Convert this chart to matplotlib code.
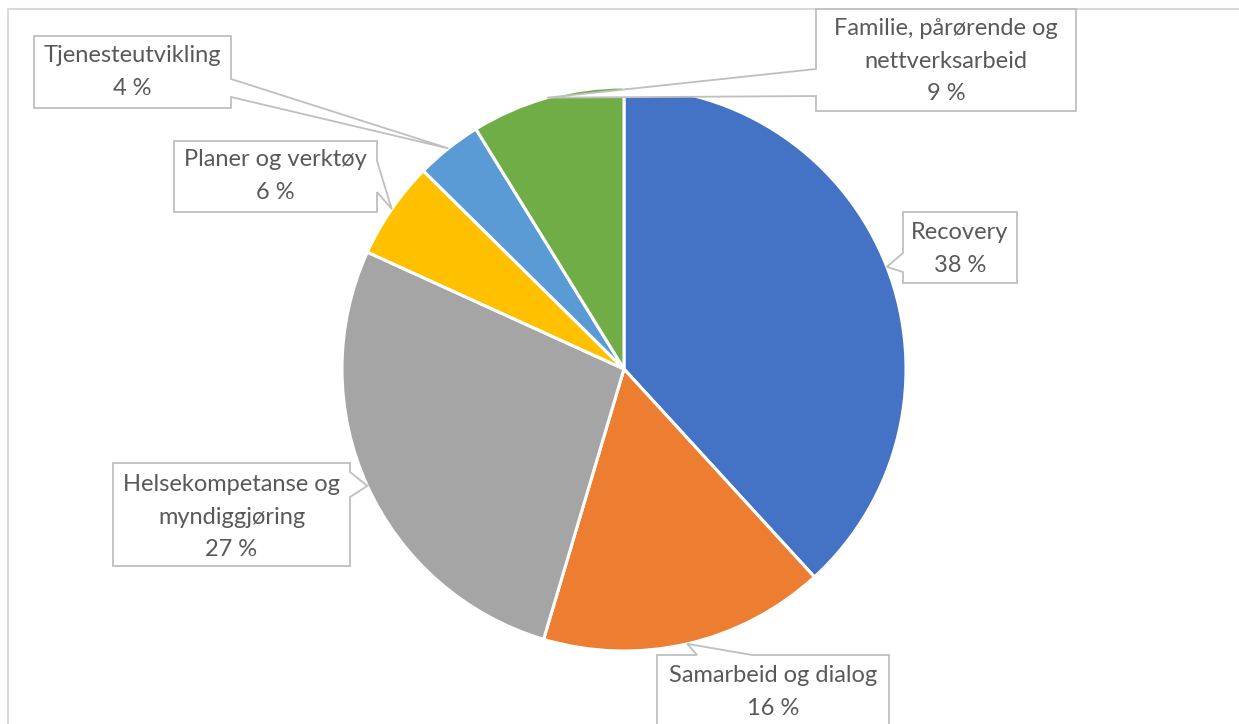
import matplotlib.pyplot as plt
from matplotlib.patches import Polygon
import numpy as np

# Data
labels = ["Recovery", "Samarbeid og dialog", "Helsekompetanse og\nmyndiggjøring",
          "Planer og verktøy", "Tjenesteutvikling", "Familie, pårørende og\nnettverksarbeid"]
shares = [38.2, 16.4, 27.2, 5.6, 3.8, 8.8]
colors = ["#4472C4", "#ED7D31", "#A5A5A5", "#FFC000", "#5B9BD5", "#70AD47"]

plt.rcParams["font.family"] = ["Lato", "DejaVu Sans"]

W, H = 1239, 724
cx, cy, R = 624, 369, 282  # pie centre/radius in pixels (y down)


def fy(y):
    # pixel y (down) -> axes y (up)
    return H - y


fig = plt.figure(figsize=(W / 100, H / 100), dpi=100)
ax = fig.add_axes([0, 0, 1, 1])
ax.pie(shares, colors=colors, startangle=90, counterclock=False,
       center=(cx, fy(cy)), radius=R,
       wedgeprops=dict(edgecolor="white", linewidth=2.2))
ax.set_xlim(0, W)
ax.set_ylim(0, H)
ax.set_aspect("equal")
ax.axis("off")

# chart frame (top + left edges visible)
ax.plot([8, 8, W + 5], [fy(H + 5), fy(9), fy(9)], color="#D9D9D9", lw=1.5)

# callout boxes: (x0, y0, x1, y1), side with the tail, tail base points
boxes = [
    ((903, 212, 1017, 283), "left", (253, 272)),
    ((657, 655, 889, 760), "top", (697, 752)),
    ((113, 463, 350, 566), "right", (472, 497)),
    ((174, 141, 377, 212), "right", (161, 192)),
    ((34, 36, 231, 108), "right", (79, 97)),
    ((816, 9, 1076, 111), "left", (69, 96)),
]
text_y = [249, 692, 517, 176, 72, 61]

# mid angles of the wedges
cum = np.cumsum([0] + shares) / sum(shares)
mids = 90 - 360 * (cum[:-1] + cum[1:]) / 2

for i, ((x0, y0, x1, y1), side, (b1, b2)) in enumerate(boxes):
    a = np.radians(mids[i])
    tx, ty = cx + R * np.cos(a), cy - R * np.sin(a)
    if side == "left":
        pts = [(x0, y0), (x1, y0), (x1, y1), (x0, y1), (x0, b2), (tx, ty), (x0, b1)]
    elif side == "right":
        pts = [(x0, y0), (x1, y0), (x1, b1), (tx, ty), (x1, b2), (x1, y1), (x0, y1)]
    else:
        pts = [(x0, y0), (b1, y0), (tx, ty), (b2, y0), (x1, y0), (x1, y1), (x0, y1)]
    pts = [(px, fy(py)) for px, py in pts]
    ax.add_patch(Polygon(pts, closed=True, facecolor="white", edgecolor="#BFBFBF",
                         lw=1.3, zorder=5))
    txt = f"{labels[i]}\n{round(shares[i])} %"
    ax.text((x0 + x1) / 2, fy(text_y[i]), txt, ha="center", va="center",
            fontsize=17, color="#595959", linespacing=1.65, zorder=6)

fig.savefig("out.png", dpi=100)
